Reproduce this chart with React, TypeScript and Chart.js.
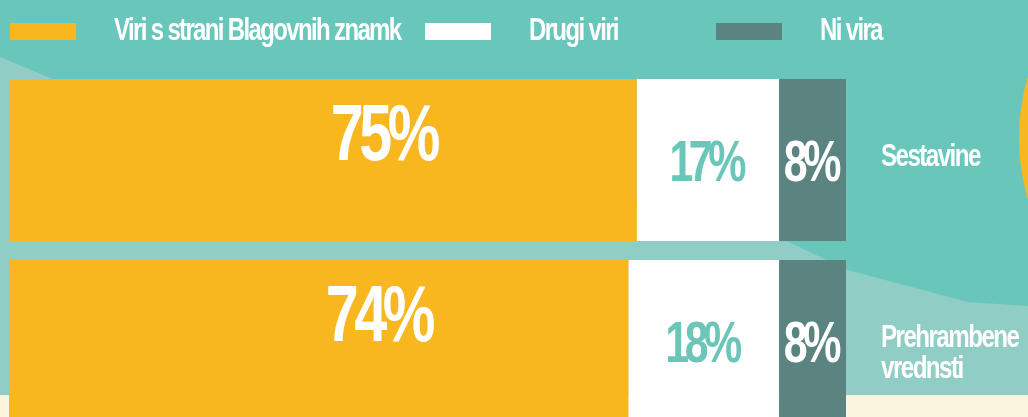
import React, { useEffect, useRef } from "react";
import { Chart, registerables } from "chart.js";

Chart.register(...registerables);

const categories: (string | string[])[] = ["Sestavine", ["Prehrambene", "vrednsti"]];
const seriesNames = ["Viri s strani Blagovnih znamk", "Drugi viri", "Ni vira"];
const brandValues = [75, 74];
const otherValues = [17, 18];
const noneValues = [8, 8];

const COLORS = {
  yellow: "#F8B71F",
  white: "#FFFFFF",
  slate: "#5B8480",
  teal: "#68C6BA",
  lightTeal: "#90CDC4",
  cream: "#FAF3DE",
  labelTeal: "#6BC5B8",
};

const FONT = "'Liberation Sans', Arial, sans-serif";

function drawCondensed(
  ctx: CanvasRenderingContext2D,
  text: string,
  x: number,
  y: number,
  size: number,
  color: string,
  sx: number,
  align: CanvasTextAlign,
  spacing = 0
) {
  ctx.save();
  ctx.font = `bold ${size}px ${FONT}`;
  ctx.fillStyle = color;
  ctx.textBaseline = "alphabetic";
  ctx.textAlign = "left";
  (ctx as any).letterSpacing = `${spacing}px`;
  const w = ctx.measureText(text).width - spacing;
  let ox = 0;
  if (align === "center") ox = -w / 2;
  else if (align === "right") ox = -w;
  ctx.translate(x, y);
  ctx.scale(sx, 1);
  ctx.fillText(text, ox, 0);
  ctx.restore();
}

const backgroundPlugin = {
  id: "bgShapes",
  beforeDraw(chart: any) {
    const { ctx, width, height } = chart;
    ctx.save();
    ctx.fillStyle = COLORS.teal;
    ctx.fillRect(0, 0, width, height);
    ctx.fillStyle = COLORS.lightTeal;
    ctx.beginPath();
    ctx.moveTo(0, 57);
    ctx.lineTo(60, 82);
    ctx.lineTo(780, 238);
    ctx.lineTo(848, 270);
    ctx.lineTo(968, 302);
    ctx.lineTo(1028, 306);
    ctx.lineTo(1028, 395);
    ctx.lineTo(0, 395);
    ctx.closePath();
    ctx.fill();
    ctx.fillStyle = COLORS.cream;
    ctx.fillRect(0, 395, width, height - 395);
    ctx.fillStyle = COLORS.yellow;
    ctx.beginPath();
    ctx.arc(1237, 138, 218, 0, Math.PI * 2);
    ctx.fill();
    ctx.restore();
  },
};

const LEGEND_X = [10, 425, 716];

const overlayPlugin = {
  id: "overlayText",
  afterDraw(chart: any) {
    const { ctx, chartArea } = chart;
    chart.data.datasets.forEach((ds: any, i: number) => {
      const bx = LEGEND_X[i];
      ctx.save();
      ctx.fillStyle = ds.backgroundColor;
      ctx.fillRect(bx, 23, 66, 17);
      ctx.restore();
      drawCondensed(ctx, ds.label, bx + 104, 40, 32, "#FFFFFF", 0.75, "left", -2.2);
    });
    const xScale = chart.scales.x;
    const yScale = chart.scales.y;
    chart.data.labels.forEach((_: any, idx: number) => {
      let start = 0;
      const cy = yScale.getPixelForValue(idx);
      chart.data.datasets.forEach((ds: any, di: number) => {
        const v = ds.data[idx];
        const frac = di === 0 ? 0.6 : 0.5;
        const px = xScale.getPixelForValue(start + v * frac);
        if (di === 0) {
          drawCondensed(ctx, `${v}%`, px, cy, 80, "#FFFFFF", 0.74, "center", -6);
        } else {
          const color = di === 1 ? COLORS.labelTeal : "#FFFFFF";
          drawCondensed(ctx, `${v}%`, px, cy + 21, 58, color, 0.74, "center", -6);
        }
        start += v;
      });
      const lab = chart.data.labels[idx];
      const lines = Array.isArray(lab) ? lab : [lab];
      lines.forEach((ln: string, li: number) => {
        drawCondensed(ctx, ln, chartArea.right + 35, cy + 6 + li * 31, 31, "#FFFFFF", 0.78, "left", -2);
      });
    });
  },
};

export default function App() {
  const ref = useRef<HTMLCanvasElement | null>(null);
  useEffect(() => {
    if (!ref.current) return;
    const chart = new Chart(ref.current, {
      type: "bar",
      data: {
        labels: categories as any,
        datasets: [
          { label: seriesNames[0], data: brandValues, backgroundColor: COLORS.yellow },
          { label: seriesNames[1], data: otherValues, backgroundColor: COLORS.white },
          { label: seriesNames[2], data: noneValues, backgroundColor: COLORS.slate },
        ],
      },
      options: {
        indexAxis: "y",
        responsive: false,
        animation: false,
        layout: { padding: { left: 9, right: 182, top: 69.5, bottom: 8.5 } },
        datasets: {
          bar: { categoryPercentage: 1, barPercentage: 0.895, borderWidth: 0 },
        } as any,
        scales: {
          x: { stacked: true, min: 0, max: 100, display: false },
          y: { stacked: true, display: false },
        },
        plugins: {
          legend: { display: false },
          tooltip: { enabled: false },
        },
      },
      plugins: [backgroundPlugin, overlayPlugin],
    });
    return () => chart.destroy();
  }, []);
  return (
    <div
      style={{
        position: "fixed",
        left: 0,
        top: 0,
        width: 1028,
        height: 417,
        overflow: "hidden",
      }}
    >
      <canvas ref={ref} width={1028} height={440} style={{ display: "block" }} />
    </div>
  );
}
